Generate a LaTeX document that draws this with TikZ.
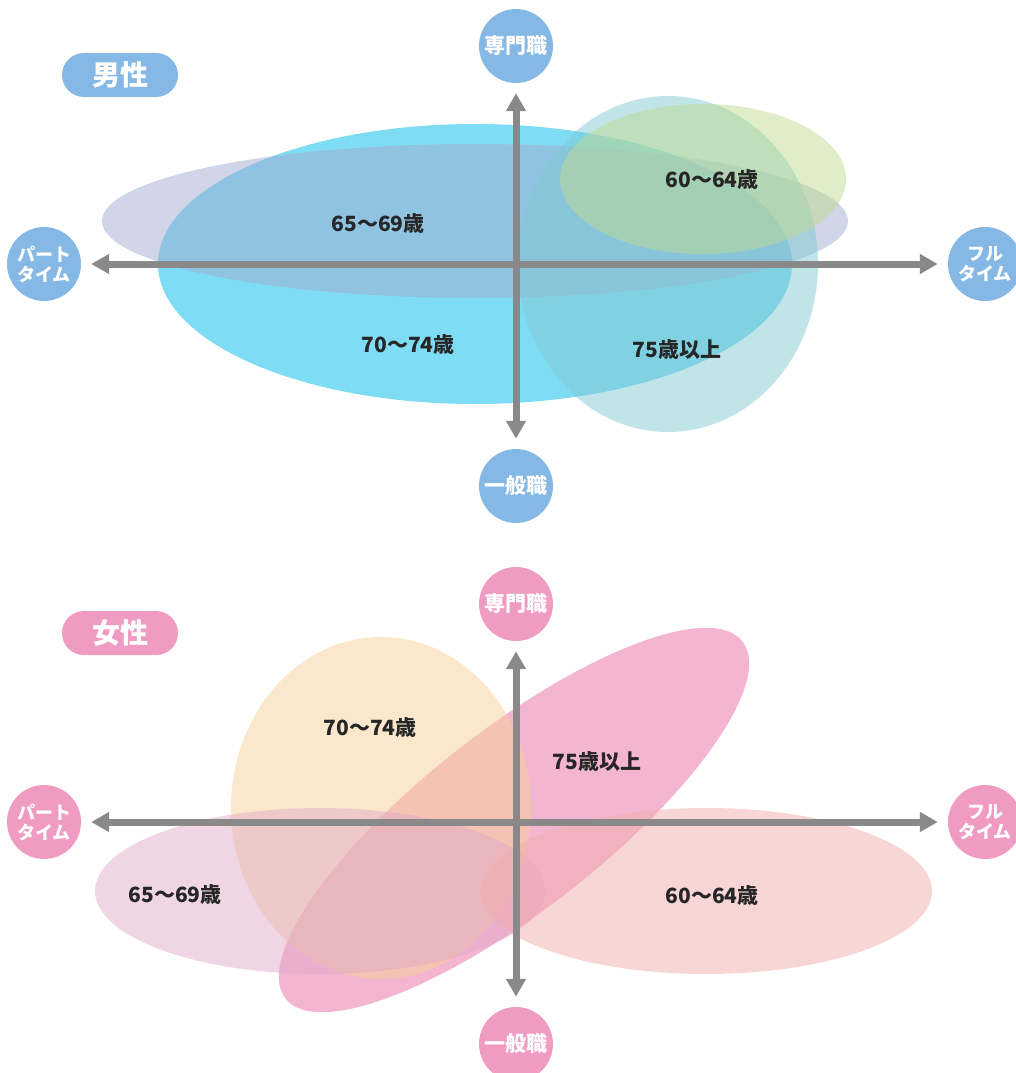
\documentclass[tikz,border=0pt]{standalone}
\usepackage{fontspec}
\setmainfont{Noto Sans CJK JP}
\usetikzlibrary{arrows.meta}
\definecolor{axisgray}{RGB}{137,137,137}
\definecolor{maleblue}{RGB}{133,184,229}
\definecolor{femalepink}{RGB}{240,156,194}
\definecolor{mcyan}{RGB}{0,185,235}
\definecolor{mlav}{RGB}{161,171,209}
\definecolor{mteal}{RGB}{129,201,209}
\definecolor{mgreen}{RGB}{191,219,145}
\definecolor{fpeach}{RGB}{247,209,153}
\definecolor{fmauve}{RGB}{225,171,201}
\definecolor{fpink}{RGB}{231,107,161}
\definecolor{fsalmon}{RGB}{241,173,173}
\tikzset{
  axisline/.style={draw=axisgray,line width=7pt,{Triangle[length=18pt,width=19pt]}-{Triangle[length=18pt,width=19pt]},shorten <=10pt,shorten >=10pt},
  endcirc/.style={circle,fill=#1,minimum size=74pt,inner sep=0pt,text=white,align=center,font=\bfseries\fontsize{21}{23}\selectfont},
  twoline/.style={font=\bfseries\fontsize{18}{20}\selectfont},
  pill/.style={rounded corners=22pt,fill=#1,minimum width=116pt,minimum height=44pt,text=white,font=\bfseries\fontsize{28}{30}\selectfont},
  agelabel/.style={text=black!85,font=\bfseries\fontsize{21}{23}\selectfont},
  blob/.style={fill=#1,fill opacity=0.5}
}
\begin{document}
\begin{tikzpicture}[x=1pt,y=1pt]
\useasboundingbox (0,0) rectangle (1015,-1073);
% male
\fill[blob=mcyan] (475,-264) ellipse [x radius=317pt,y radius=140pt];
\fill[blob=mlav] (475,-221) ellipse [x radius=373pt,y radius=77pt];
\fill[blob=mteal] (668,-264) ellipse [x radius=150pt,y radius=168pt];
\fill[blob=mgreen] (703,-179) ellipse [x radius=143pt,y radius=75pt];
\node[pill=maleblue] (male) at (120,-75) {男性};
\node[endcirc=maleblue] (mpro) at (516,-46) {専門職};
\node[endcirc=maleblue] (mgen) at (516,-486) {一般職};
\node[endcirc=maleblue,twoline] (mpart) at (44,-264) {パート\\タイム};
\node[endcirc=maleblue,twoline] (mfull) at (985,-264) {フル\\タイム};
\draw[axisline] (mpart) -- (mfull);
\draw[axisline] (mpro) -- (mgen);
\node[agelabel] (m6569) at (378,-224) {65〜69歳};
\node[agelabel] (m7074) at (408,-345) {70〜74歳};
\node[agelabel] (m75) at (677,-350) {75歳以上};
\node[agelabel] (m6064) at (712,-180) {60〜64歳};
% female
\fill[blob=fpink,rotate around={38:(514,-820)}] (514,-820) ellipse [x radius=290pt,y radius=90pt];
\fill[blob=fpeach] (381,-808) ellipse [x radius=150pt,y radius=171pt];
\fill[blob=fmauve] (320,-891) ellipse [x radius=225pt,y radius=83pt];
\fill[blob=fsalmon] (706,-891) ellipse [x radius=226pt,y radius=83pt];
\node[pill=femalepink] (female) at (120,-633) {女性};
\node[endcirc=femalepink] (fpro) at (516,-604) {専門職};
\node[endcirc=femalepink] (fgen) at (516,-1044) {一般職};
\node[endcirc=femalepink,twoline] (fpart) at (44,-822) {パート\\タイム};
\node[endcirc=femalepink,twoline] (ffull) at (985,-822) {フル\\タイム};
\draw[axisline] (fpart) -- (ffull);
\draw[axisline] (fpro) -- (fgen);
\node[agelabel] (f7074) at (370,-728) {70〜74歳};
\node[agelabel] (f75) at (597,-762) {75歳以上};
\node[agelabel] (f6569) at (175,-895) {65〜69歳};
\node[agelabel] (f6064) at (712,-896) {60〜64歳};
\end{tikzpicture}
\end{document}
